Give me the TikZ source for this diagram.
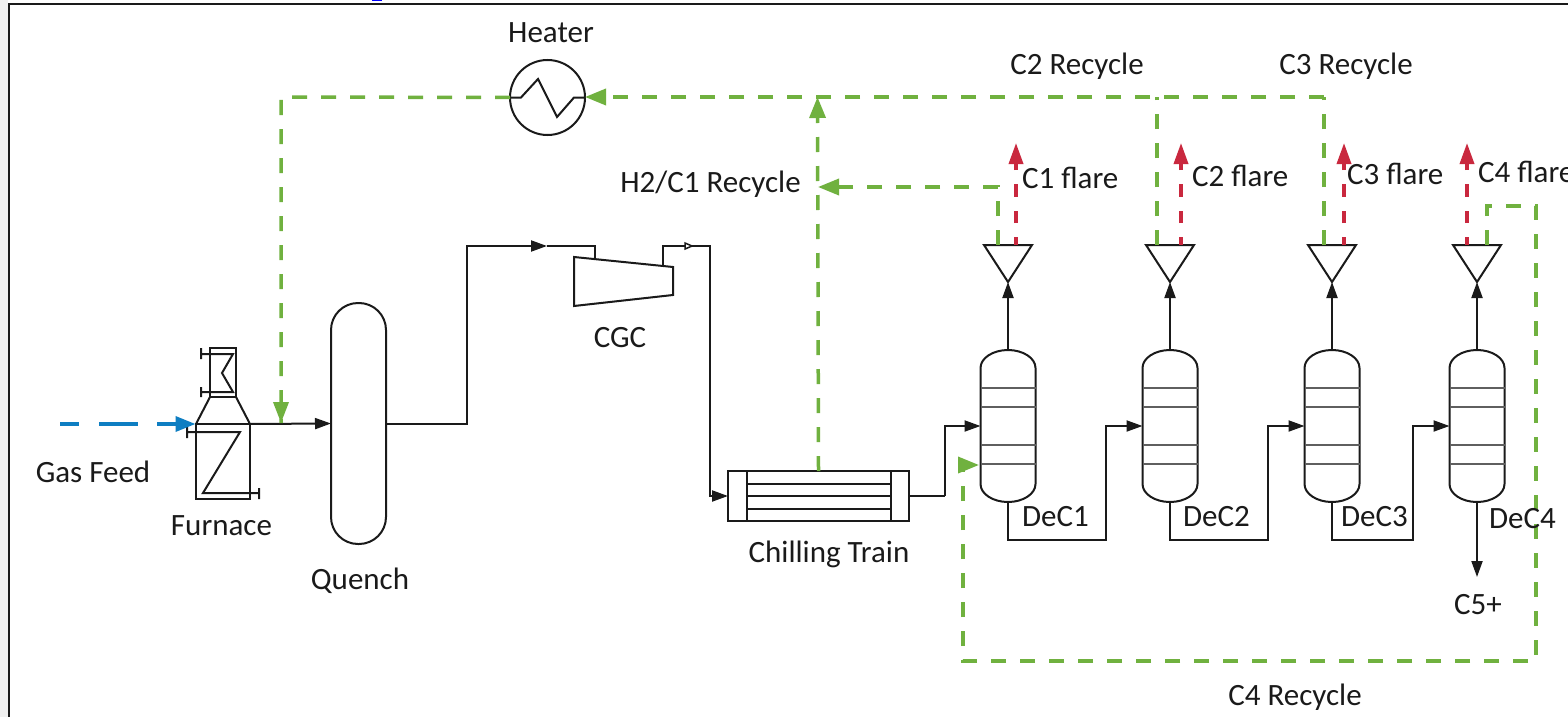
\documentclass[tikz,border=0pt]{standalone}
\usepackage{fontspec}
\setmainfont{Carlito}
\usetikzlibrary{arrows.meta,calc}
\definecolor{recyc}{HTML}{70B13F}
\definecolor{flare}{HTML}{C9283E}
\definecolor{feedb}{HTML}{0E7EC2}
\definecolor{inkc}{HTML}{1A1A1A}
\tikzset{
  x=1pt,y=-1pt,
  pipe/.style={draw=inkc,line width=2pt,line join=miter},
  equip/.style={draw=inkc,line width=2pt,fill=none,inner sep=0pt,outer sep=0pt,rectangle},
  ghost/.style={draw=none,inner sep=0pt,outer sep=0pt,rectangle},
  thin tray/.style={draw=inkc!70,line width=1.4pt},
  flow/.style={pipe,-{Triangle[length=16pt,width=11pt]}},
  recycle/.style={draw=recyc,line width=3.5pt,dash pattern=on 15pt off 14pt,line join=miter},
  recycleflow/.style={recycle,-{Triangle[length=21pt,width=16pt]}},
  flareflow/.style={draw=flare,line width=3.5pt,dash pattern=on 12.5pt off 14pt,dash phase=4.5pt,-{Triangle[length=21pt,width=14pt]}},
  feedflow/.style={draw=feedb,line width=3.5pt,dash pattern=on 19pt off 20pt on 39pt off 19pt on 40pt off 0pt,-{Triangle[length=20pt,width=15pt]}},
  lbl/.style={font=\fontsize{31}{34}\selectfont,text=inkc,inner sep=0pt,outer sep=0pt,yshift=-1.5pt},
}
\newcommand{\columnshape}[2]{%
  \node[ghost,minimum width=55pt,minimum height=152pt] (#1) at (#2,426) {};
  \draw[line width=2pt,draw=inkc]
    (#2-27.5,368) .. controls (#2-27.5,358) and (#2-15,350) .. (#2,350)
    .. controls (#2+15,350) and (#2+27.5,358) .. (#2+27.5,368)
    -- (#2+27.5,484) .. controls (#2+27.5,494) and (#2+15,502) .. (#2,502)
    .. controls (#2-15,502) and (#2-27.5,494) .. (#2-27.5,484) -- cycle;
  \draw[thin tray] (#2-27.5,388) -- (#2+27.5,388) (#2-27.5,407) -- (#2+27.5,407)
    (#2-27.5,445) -- (#2+27.5,445) (#2-27.5,464) -- (#2+27.5,464);
}
\newcommand{\splittershape}[2]{%
  \node[ghost,minimum width=48pt,minimum height=37pt] (#1) at (#2,263.5) {};
  \draw[pipe] (#1.north west) -- (#1.north east) -- (#1.south) -- cycle;
}
\begin{document}
\begin{tikzpicture}
\path[use as bounding box,clip] (0,0) rectangle (1568,717);
\fill[white] (0,0) rectangle (1568,717);
\fill[black!6] (0,0) rectangle (8,717);
\fill[blue] (372,0) rectangle (382,1.5);
\draw[draw=inkc,line width=2pt] (1570,4) -- (9,4) -- (9,720);

% Equipment
\node[equip,circle,minimum size=75pt] (heater) at (547.5,97.5) {};
\draw[pipe] (heater.west) -- (521,97.5) -- (538,79) -- (557,117) -- (574,97.5) -- (heater.east);

\node[equip,minimum width=54pt,minimum height=75pt] (furnace) at (223,461.5) {};
\node[equip,minimum width=26pt,minimum height=49pt] (stack) at (223,372.5) {};
\draw[pipe] (stack.south west) -- (furnace.north west) (stack.south east) -- (furnace.north east);
\draw[pipe] (201,348) -- (201,359) (201,354) -- (233,354) -- (222,373) -- (233,392) -- (201,392) (201,387) -- (201,397);
\draw[pipe] (187,427) -- (187,438) (187,432) -- (240,432) -- (203,493) -- (259,493) (259,488) -- (259,499);

\node[equip,rounded corners=27pt,minimum width=55pt,minimum height=241pt] (quench) at (358.5,423.5) {};

\node[ghost,minimum width=99pt,minimum height=49pt] (cgc) at (623.5,281.5) {};
\draw[pipe] (cgc.north west) -- (673,267) -- (673,295) -- (cgc.south west) -- cycle;
\coordinate (cgcin) at (595,259);
\coordinate (cgcout) at (663,265);

\node[equip,minimum width=181pt,minimum height=50pt] (chill) at (818.5,496) {};
\draw[pipe] (747,471) -- (747,521) (891,471) -- (891,521);
\draw[pipe] (747,483.5) -- (891,483.5) (747,496) -- (891,496) (747,508.5) -- (891,508.5);

\columnshape{colA}{1008}
\columnshape{colB}{1170}
\columnshape{colC}{1332}
\columnshape{colD}{1477}
\splittershape{sA}{1008}
\splittershape{sB}{1170}
\splittershape{sC}{1332}
\splittershape{sD}{1477}

% Process lines
\coordinate (feedstart) at (60,424);
\coordinate (cgcturn) at (467,246);
\coordinate (smalltip) at (693,246);
\coordinate (cA) at (1008,540);
\coordinate (cB) at (1170,540);
\coordinate (cC) at (1332,540);
\coordinate (cAu) at (1106,540);
\coordinate (cBu) at (1268,540);
\coordinate (cCu) at (1413,540);
\coordinate (prod) at (1477,577);
\coordinate (cond) at (945,496);

\draw[feedflow] (feedstart) -- (195.5,424);
\draw[flow] (furnace.north east) -- (quench.west);
\draw[pipe,-{Triangle[length=16pt,width=11pt]}] (quench.east) -| (cgcturn) -- (547,246);
\draw[pipe] (547,246) -- (595,246) -- (cgcin);
\draw[pipe] (cgcout) -- (663,246) -- (smalltip);
\draw[pipe,fill=white,line width=1.5pt] (685,243) -- (692,246) -- (685,249) -- cycle;
\draw[flow] (smalltip) -- (710,246) -- (710,496) -- (chill.west);
\draw[pipe] (chill.east) -- (cond);
\draw[flow] (cond) -- (945,426) -- (colA.west);

\draw[flow] (colA.north) -- (sA.south);
\draw[flow] (colB.north) -- (sB.south);
\draw[flow] (colC.north) -- (sC.south);
\draw[flow] (colD.north) -- (sD.south);

\draw[flow] (colA.south) -- (cA) -- (cAu) -- (1106,426) -- (colB.west);
\draw[flow] (colB.south) -- (cB) -- (cBu) -- (1268,426) -- (colC.west);
\draw[flow] (colC.south) -- (cC) -- (cCu) -- (1413,426) -- (colD.west);
\draw[flow] (colD.south) -- (prod);

% Flare lines
\draw[flareflow] (1016,245) -- (1016,143);
\draw[flareflow] (1181,245) -- (1181,143);
\draw[flareflow] (1344,245) -- (1344,143);
\draw[flareflow] (1467,245) -- (1467,143);

% Recycle lines
\coordinate (rC) at (1324,97);
\coordinate (rB) at (1157,97);
\coordinate (rT) at (817.5,97);
\coordinate (rL) at (281,97);
\coordinate (rD) at (281,423);
\coordinate (h2a) at (998,187);
\coordinate (h2b) at (818,187);
\coordinate (c4a) at (1487,206);
\coordinate (c4b) at (1536,206);
\coordinate (c4c) at (1536,661);
\coordinate (c4d) at (963,661);
\coordinate (c4e) at (963,465);
\coordinate (c4f) at (979,465);

\draw[recycleflow] (rC) -- (585,97);
\draw[recycle] (1324,245) -- (rC);
\draw[recycle] (1157,245) -- (rB);
\draw[recycle] (heater.west) -- (rL) -- (rD);
\draw[-{Triangle[length=21pt,width=15pt]},draw=recyc,line width=3.5pt] (281,402) -- (rD);
\draw[recycleflow] (chill.north) -- (rT);
\draw[recycleflow] (998,245) -- (h2a) -- (h2b);
\draw[recycleflow] (1487,245) -- (c4a) -- (c4b) -- (c4c) -- (c4d) -- (c4e) -- (c4f);

% Labels
\node[lbl] (t1) at (551,31) {Heater};
\node[lbl] (t2) at (1077,65) {C2 Recycle};
\node[lbl] (t3) at (1346,65) {C3 Recycle};
\node[lbl] (t4) at (710.5,183) {H2/C1 Recycle};
\node[lbl,anchor=west] (t5) at (1022,176) {C1 flare};
\node[lbl,anchor=west] (t6) at (1192,174) {C2 flare};
\node[lbl,anchor=west] (t7) at (1347,172) {C3 flare};
\node[lbl,anchor=west] (t8) at (1478,170) {C4 flare};
\node[lbl] (t9) at (93,470) {Gas Feed};
\node[lbl] (t10) at (221.5,524) {Furnace};
\node[lbl] (t11) at (360,579) {Quench};
\node[lbl] (t12) at (620,336) {CGC};
\node[lbl] (t13) at (829,553) {Chilling Train};
\node[lbl,anchor=west] (t14) at (1022,515) {DeC1};
\node[lbl,anchor=west] (t15) at (1183,515) {DeC2};
\node[lbl,anchor=west] (t16) at (1341,515) {DeC3};
\node[lbl,anchor=west] (t17) at (1489,517) {DeC4};
\node[lbl] (t18) at (1478,603) {C5+};
\node[lbl] (t19) at (1295,696) {C4 Recycle};
\end{tikzpicture}
\end{document}
